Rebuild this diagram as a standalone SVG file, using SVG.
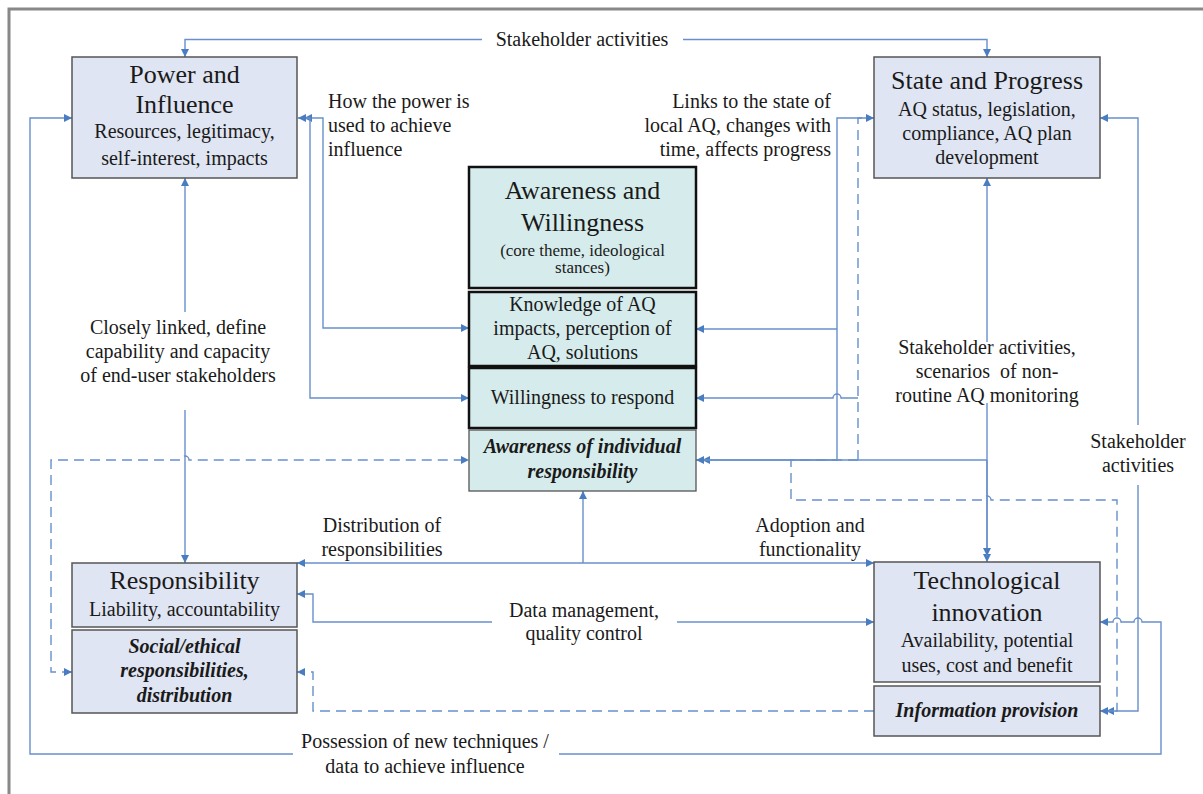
<svg xmlns="http://www.w3.org/2000/svg" width="1203" height="794" viewBox="0 0 1203 794">
<defs>
<marker id="ah" viewBox="0 0 10 10" refX="10" refY="5" markerWidth="9" markerHeight="8" markerUnits="userSpaceOnUse" orient="auto-start-reverse">
<path d="M0,0 L10,5 L0,10 Z" fill="#4a7dc0"/>
</marker>
</defs>
<style>
text{font-family:"Liberation Serif","Times New Roman",serif;fill:#1a1a1a;}
.t26{font-size:26px;text-anchor:middle;}
.t20{font-size:20px;text-anchor:middle;}
.t17{font-size:17px;text-anchor:middle;}
.bi{font-size:20px;text-anchor:middle;font-weight:bold;font-style:italic;}
.lbl{font-size:20px;}
.box{fill:#dfe5f2;stroke:#555;stroke-width:1.5;}
.cbox{fill:#d6ecec;stroke:#111;stroke-width:2.5;}
.cbox2{fill:#d6ecec;stroke:#555;stroke-width:1.3;}
.c{fill:none;stroke:#6790cc;stroke-width:1.4;}
.a{marker-end:url(#ah);}
.aa{marker-start:url(#ah);marker-end:url(#ah);}
.d{stroke-dasharray:10,6;}
</style>
<rect x="0" y="0" width="1203" height="794" fill="#fff"/>
<rect x="9" y="9" width="1210" height="810" fill="none" stroke="#888" stroke-width="3"/>

<g id="connectors">
<path class="c a" d="M482,39.5 H185 V57"/>
<path class="c a" d="M683,39.5 H987 V57"/>
<path class="c aa" d="M304,118 H323 V328 H469"/>
<path class="c aa" d="M298,118 H310 V398 H469"/>
<path class="c a" d="M185,312 V178"/>
<path class="c a" d="M185,410 V563"/>
<path class="c a" d="M293,754 H30 V118 H72"/>
<path class="c a" d="M559,754 H1161 V622 H1142 a4,4 0 0 0 -8,0 H1121 a4,4 0 0 0 -8,0 H1100"/>
<path class="c d aa" d="M72,672 H51 V460 H181 a4,4 0 0 1 8,0 H469"/>
<path class="c a" d="M868,118 H837 V460 H702"/>
<path class="c a" d="M837,329 H696"/>
<path class="c a" d="M858,398 H841 a4,4 0 0 0 -8,0 H696"/>
<path class="c a" d="M987,460 H696"/>
<path class="c d a" d="M858,460 V118 H874"/>
<path class="c d a" d="M858,460 H791 V500 H983 a4,4 0 0 1 8,0 H1117 V711 H1106"/>
<path class="c a" d="M987,342 V178"/>
<path class="c a" d="M987,403 V562"/>
<path class="c a" d="M987,460 V556"/>
<path class="c a" d="M1138,425 V118 H1100"/>
<path class="c a" d="M1138,485 V711 H1100"/>
<path class="c a" d="M583,563 V491"/>
<path class="c a" d="M583,563 H297"/>
<path class="c a" d="M583,563 H874"/>
<path class="c a" d="M492,622 H313 V594 H297"/>
<path class="c a" d="M677,622 H874"/>
<path class="c d a" d="M874,711 H313 V672 H297"/>
</g>

<g id="power">
<rect class="box" x="72" y="57" width="225" height="121"/>
<text class="t26" x="184.5" y="83">Power and</text>
<text class="t26" x="184.5" y="113">Influence</text>
<text class="t20" x="184.5" y="138">Resources, legitimacy,</text>
<text class="t20" x="184.5" y="165">self-interest, impacts</text>
</g>

<g id="state">
<rect class="box" x="874" y="57" width="226" height="121"/>
<text class="t26" x="987" y="89">State and Progress</text>
<text class="t20" x="987" y="116">AQ status, legislation,</text>
<text class="t20" x="987" y="140">compliance, AQ plan</text>
<text class="t20" x="987" y="164">development</text>
</g>

<g id="awareness">
<rect class="cbox" x="469" y="167" width="227" height="121"/>
<text class="t26" x="582.5" y="199">Awareness and</text>
<text class="t26" x="582.5" y="231">Willingness</text>
<text class="t17" x="582.5" y="256">(core theme, ideological</text>
<text class="t17" x="582.5" y="273">stances)</text>
</g>

<g id="knowledge">
<rect class="cbox" x="469" y="292" width="227" height="74"/>
<text class="t20" x="582.5" y="311">Knowledge of AQ</text>
<text class="t20" x="582.5" y="335">impacts, perception of</text>
<text class="t20" x="582.5" y="359">AQ, solutions</text>
</g>

<g id="willingness">
<rect class="cbox" x="469" y="368" width="227" height="60"/>
<text class="t20" x="582.5" y="404">Willingness to respond</text>
</g>

<g id="individual">
<rect class="cbox2" x="469" y="430" width="227" height="61"/>
<text class="bi" x="582.5" y="453">Awareness of individual</text>
<text class="bi" x="582.5" y="478">responsibility</text>
</g>

<g id="responsibility">
<rect class="box" x="72" y="563" width="225" height="64"/>
<text class="t26" x="184.5" y="589">Responsibility</text>
<text class="t20" x="184.5" y="616">Liability, accountability</text>
</g>

<g id="social">
<rect class="box" x="72" y="630" width="225" height="83"/>
<text class="bi" x="184.5" y="653">Social/ethical</text>
<text class="bi" x="184.5" y="677">responsibilities,</text>
<text class="bi" x="184.5" y="702">distribution</text>
</g>

<g id="technological">
<rect class="box" x="874" y="562" width="226" height="120"/>
<text class="t26" x="987" y="589">Technological</text>
<text class="t26" x="987" y="621">innovation</text>
<text class="t20" x="987" y="647">Availability, potential</text>
<text class="t20" x="987" y="672">uses, cost and benefit</text>
</g>

<g id="information">
<rect class="box" x="874" y="686" width="226" height="50"/>
<text class="bi" x="987" y="717">Information provision</text>
</g>

<g id="labels">
<text class="t20" x="582" y="46">Stakeholder activities</text>
<text class="lbl" x="328" y="108">How the power is</text>
<text class="lbl" x="328" y="132">used to achieve</text>
<text class="lbl" x="328" y="156">influence</text>
<text class="lbl" x="831" y="108" text-anchor="end">Links to the state of</text>
<text class="lbl" x="831" y="132" text-anchor="end">local AQ, changes with</text>
<text class="lbl" x="831" y="156" text-anchor="end">time, affects progress</text>
<text class="t20" x="178" y="334">Closely linked, define</text>
<text class="t20" x="178" y="358">capability and capacity</text>
<text class="t20" x="178" y="382">of end-user stakeholders</text>
<text class="t20" x="987" y="354">Stakeholder activities,</text>
<text class="t20" x="987" y="378" style="white-space:pre">scenarios  of non-</text>
<text class="t20" x="987" y="402">routine AQ monitoring</text>
<text class="t20" x="1138" y="448">Stakeholder</text>
<text class="t20" x="1138" y="472">activities</text>
<text class="t20" x="382" y="532">Distribution of</text>
<text class="t20" x="382" y="556">responsibilities</text>
<text class="t20" x="810" y="532">Adoption and</text>
<text class="t20" x="810" y="556">functionality</text>
<text class="t20" x="584" y="617">Data management,</text>
<text class="t20" x="584" y="640">quality control</text>
<text class="t20" x="425" y="748">Possession of new techniques /</text>
<text class="t20" x="425" y="773">data to achieve influence</text>
</g>
</svg>
